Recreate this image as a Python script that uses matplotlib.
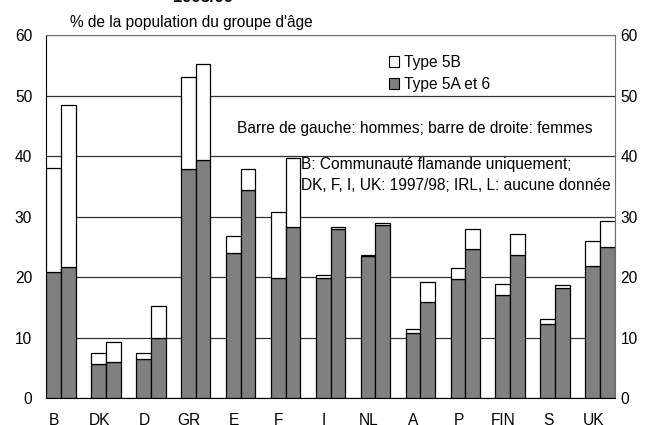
import matplotlib
matplotlib.use("Agg")
import matplotlib.pyplot as plt
import numpy as np
from matplotlib.patches import Patch

plt.rcParams["font.family"] = ["Liberation Sans", "DejaVu Sans"]
fs = 11.2
plt.rcParams["font.size"] = fs

countries = ["B", "DK", "D", "GR", "E", "F", "I", "NL", "A", "P", "FIN", "S", "UK"]

# hommes (barre de gauche)
men_5a6 = [20.8, 5.7, 6.5, 37.8, 23.9, 19.9, 19.9, 23.5, 10.7, 19.6, 17.1, 12.2, 21.8]
men_5b = [17.2, 1.8, 0.9, 15.3, 2.9, 10.8, 0.4, 0.1, 0.7, 1.9, 1.7, 0.9, 4.2]
# femmes (barre de droite)
women_5a6 = [21.6, 5.9, 9.9, 39.3, 34.4, 28.2, 28.0, 28.6, 15.9, 24.6, 23.6, 18.1, 25.0]
women_5b = [26.8, 3.4, 5.3, 15.9, 3.4, 11.4, 0.3, 0.4, 3.2, 3.4, 3.5, 0.5, 4.2]

yticks = [0, 10, 20, 30, 40, 50, 60]

W, H = 647, 425
fig = plt.figure(figsize=(W / 100, H / 100), dpi=100)
ax = fig.add_axes([46 / W, 1 - 398 / H, (615 - 46) / W, (398 - 35) / H])

x = np.arange(len(countries))
w = 0.33
dark = "#808080"
bar_kw = dict(width=w, edgecolor="black", linewidth=0.9, zorder=3)

ax.bar(x - w / 2, men_5a6, color=dark, **bar_kw)
ax.bar(x - w / 2, men_5b, bottom=men_5a6, color="white", **bar_kw)
ax.bar(x + w / 2, women_5a6, color=dark, **bar_kw)
ax.bar(x + w / 2, women_5b, bottom=women_5a6, color="white", **bar_kw)

ax.set_xlim(-w, len(countries) - 1 + w)
ax.set_ylim(0, 60)
ax.set_yticks(yticks)
ax.yaxis.grid(True, color="#333333", linewidth=0.9, zorder=0)
ax.set_axisbelow(True)
ax.tick_params(axis="y", length=0, pad=10, labelsize=fs)

ax.set_xticks(x - 0.15)
ax.set_xticklabels(countries)
ax.tick_params(axis="x", length=0, pad=11, labelsize=fs)

for side in ["top", "right"]:
    ax.spines[side].set_color("#707070")
ax.spines["left"].set_color("black")
ax.spines["bottom"].set_color("black")

ax2 = ax.twinx()
ax2.set_ylim(0, 60)
ax2.set_yticks(yticks)
ax2.tick_params(axis="y", length=0, pad=4, labelsize=fs)
for s in ax2.spines.values():
    s.set_visible(False)

handles = [
    Patch(facecolor="white", edgecolor="black", linewidth=0.8),
    Patch(facecolor=dark, edgecolor="black", linewidth=0.8),
]
ax.legend(handles, ["Type 5B", "Type 5A et 6"], loc="upper left",
          bbox_to_anchor=(375 / W, 1 - 41 / H), bbox_transform=fig.transFigure,
          frameon=False, handlelength=0.65, handleheight=0.65,
          handletextpad=0.3, labelspacing=0.45, fontsize=fs)

fig.text(237 / W, 1 - 128 / H, "Barre de gauche: hommes; barre de droite: femmes",
         ha="left", va="center", fontsize=fs)
fig.text(301 / W, 1 - 165 / H, "B: Communauté flamande uniquement;",
         ha="left", va="center", fontsize=fs)
fig.text(301 / W, 1 - 186 / H, "DK, F, I, UK: 1997/98; IRL, L: aucune donnée",
         ha="left", va="center", fontsize=fs)

fig.text(70 / W, 1 - 23 / H, "% de la population du groupe d'âge",
         ha="left", va="center", fontsize=fs)
fig.text(203 / W, 1 - 2 / H, "1998/99", ha="center", va="baseline",
         fontsize=12, fontweight="bold")

fig.savefig("out.png", dpi=100)
